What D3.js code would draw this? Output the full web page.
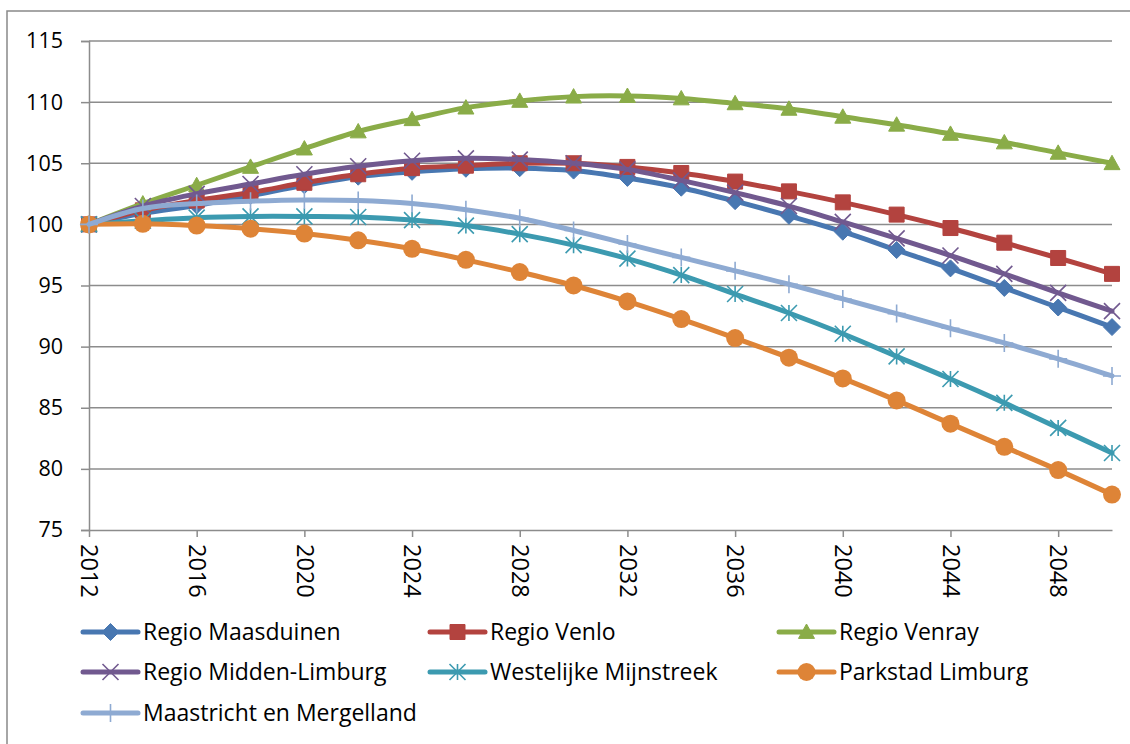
<!DOCTYPE html>
<html lang="nl">
<head>
<meta charset="utf-8">
<title>Bevolkingsprognose Limburg</title>
<script src="https://cdn.jsdelivr.net/npm/d3@7/dist/d3.min.js"></script>
<style>
  body { margin: 0; background: #fff; }
  text { font-family: "Open Sans", sans-serif; fill: #000; }
</style>
</head>
<body>
<script>
// years, every second year
var years = [2012, 2014, 2016, 2018, 2020, 2022, 2024, 2026, 2028, 2030,
             2032, 2034, 2036, 2038, 2040, 2042, 2044, 2046, 2048, 2050];
var yTicks = [75, 80, 85, 90, 95, 100, 105, 110, 115];
var xTicks = [2012, 2016, 2020, 2024, 2028, 2032, 2036, 2040, 2044, 2048];

var maasduinen = [100, 100.9, 101.55, 102.35, 103.2, 103.9, 104.3, 104.55, 104.6, 104.4,
                  103.8, 103.0, 101.9, 100.7, 99.4, 97.9, 96.4, 94.8, 93.2, 91.6];
var venlo      = [100, 101.15, 101.95, 102.6, 103.4, 104.1, 104.6, 104.8, 105.0, 105.0,
                  104.7, 104.2, 103.5, 102.7, 101.8, 100.8, 99.7, 98.5, 97.25, 95.95];
var venray     = [100, 101.7, 103.2, 104.7, 106.2, 107.6, 108.6, 109.55, 110.1, 110.45,
                  110.5, 110.3, 109.9, 109.45, 108.8, 108.15, 107.4, 106.7, 105.85, 105.0];
var middenLimburg = [100, 101.5, 102.5, 103.3, 104.1, 104.75, 105.2, 105.4, 105.3, 105.0,
                  104.5, 103.6, 102.6, 101.5, 100.2, 98.85, 97.45, 95.95, 94.4, 92.9];
var westelijke = [100, 100.3, 100.55, 100.65, 100.65, 100.6, 100.35, 99.9, 99.2, 98.3,
                  97.2, 95.85, 94.3, 92.75, 91.05, 89.2, 87.35, 85.4, 83.35, 81.3];
var parkstad   = [100, 100.05, 99.9, 99.65, 99.25, 98.7, 98.0, 97.1, 96.1, 95.0,
                  93.7, 92.25, 90.7, 89.1, 87.4, 85.6, 83.7, 81.8, 79.9, 77.9];
var maastricht = [100, 101.3, 101.7, 101.9, 102.0, 101.95, 101.7, 101.2, 100.5, 99.5,
                  98.4, 97.3, 96.2, 95.1, 93.9, 92.7, 91.5, 90.3, 89.0, 87.6];

var seriesNames = ["Regio Maasduinen", "Regio Venlo", "Regio Venray",
                   "Regio Midden-Limburg", "Westelijke Mijnstreek", "Parkstad Limburg",
                   "Maastricht en Mergelland"];
var seriesValues = [maasduinen, venlo, venray, middenLimburg, westelijke, parkstad, maastricht];
var colors = ["#4877b1", "#b3433f", "#8aac48", "#71598f", "#3c9ab0", "#de8437", "#8eaad2"];
var markers = ["diamond", "square", "triangle", "x", "star", "circle", "plus"];

var W = 1130, H = 744;
var svg = d3.select("body").append("svg").attr("width", W).attr("height", H);

// chart border
svg.append("rect").attr("x", 7).attr("y", 11).attr("width", 1140).attr("height", 760)
   .attr("fill", "none").attr("stroke", "#898989").attr("stroke-width", 1.5);

var pLeft = 89, pRight = 1112, pTop = 41, pBottom = 530;
var x = d3.scaleLinear().domain([2012, 2050]).range([pLeft, pRight]);
var y = d3.scaleLinear().domain([75, 115]).range([pBottom, pTop]);

// gridlines
svg.append("g").selectAll("line").data(yTicks.slice(1)).join("line")
   .attr("x1", pLeft).attr("x2", pRight)
   .attr("y1", function(d) { return y(d); }).attr("y2", function(d) { return y(d); })
   .attr("stroke", "#8c8c8c").attr("stroke-width", 1.5);

// y axis
var yAxis = svg.append("g").attr("transform", "translate(" + pLeft + ",0)")
   .call(d3.axisLeft(y).tickValues(yTicks).tickSize(8).tickPadding(18));
yAxis.select(".domain").attr("stroke", "#8c8c8c").attr("stroke-width", 1.5);
yAxis.selectAll(".tick line").attr("stroke", "#8c8c8c").attr("stroke-width", 1.5);
yAxis.selectAll("text").attr("font-size", 21.5).attr("font-family", "'Open Sans', sans-serif");

// x axis
var xAxis = svg.append("g").attr("transform", "translate(0," + pBottom + ")")
   .call(d3.axisBottom(x).tickValues(xTicks).tickFormat(d3.format("d")).tickSize(7).tickSizeOuter(0));
xAxis.select(".domain").attr("stroke", "#8c8c8c").attr("stroke-width", 1.5);
xAxis.selectAll(".tick line").attr("stroke", "#8c8c8c").attr("stroke-width", 1.5);
xAxis.selectAll("text")
   .attr("font-size", 23.5).attr("font-family", "'Open Sans', sans-serif")
   .attr("transform", "rotate(90)")
   .attr("x", 14).attr("y", 0).attr("dy", "0.35em")
   .style("text-anchor", "start");

var line = d3.line()
   .x(function(d, i) { return x(years[i]); })
   .y(function(d) { return y(d); })
   .curve(d3.curveCatmullRom.alpha(0.5));

function markerPath(type, s) {
  var h = s / 2;
  switch (type) {
    case "diamond": return "M0," + (-h) + "L" + h + ",0L0," + h + "L" + (-h) + ",0Z";
    case "square": return "M" + (-h) + "," + (-h) + "h" + s + "v" + s + "h" + (-s) + "Z";
    case "triangle": return "M0," + (-h) + "L" + h + "," + (h * 0.8) + "L" + (-h) + "," + (h * 0.8) + "Z";
    case "x": return "M" + (-h) + "," + (-h) + "L" + h + "," + h + "M" + h + "," + (-h) + "L" + (-h) + "," + h;
    case "star": return "M" + (-h) + "," + (-h) + "L" + h + "," + h + "M" + h + "," + (-h) + "L" + (-h) + "," + h +
                        "M0," + (-h) + "L0," + h;
    case "plus": return "M0," + (-h) + "L0," + h + "M" + (-h) + ",0L" + h + ",0";
  }
}
var markerSize = { diamond: 17, square: 15, triangle: 16, x: 16, star: 16, plus: 18, circle: 9 };

function drawMarker(g, type, color, cx, cy) {
  if (type === "circle") {
    g.append("circle").attr("cx", cx).attr("cy", cy).attr("r", markerSize.circle).attr("fill", color);
  } else {
    var open = (type === "x" || type === "star" || type === "plus");
    g.append("path").attr("d", markerPath(type, markerSize[type]))
     .attr("transform", "translate(" + cx + "," + cy + ")")
     .attr("fill", open ? "none" : color)
     .attr("stroke", color).attr("stroke-width", open ? 1.6 : 1);
  }
}

// series, drawn in order
seriesValues.forEach(function(vals, k) {
  var g = svg.append("g");
  g.append("path").attr("d", line(vals))
   .attr("fill", "none").attr("stroke", colors[k]).attr("stroke-width", 5)
   .attr("stroke-linejoin", "round").attr("stroke-linecap", "round");
  vals.forEach(function(v, i) { drawMarker(g, markers[k], colors[k], x(years[i]), y(v)); });
});

// legend
var legX = [83, 430, 779], legY = [632, 672, 713];
seriesNames.forEach(function(name, k) {
  var lx = legX[k % 3], ly = legY[Math.floor(k / 3)];
  var g = svg.append("g");
  g.append("line").attr("x1", lx).attr("x2", lx + 55).attr("y1", ly).attr("y2", ly)
   .attr("stroke", colors[k]).attr("stroke-width", 5).attr("stroke-linecap", "round");
  drawMarker(g, markers[k], colors[k], lx + 27.5, ly);
  g.append("text").attr("x", lx + 60).attr("y", ly).attr("dy", "0.35em")
   .attr("font-size", 23).text(name);
});
</script>
</body>
</html>
